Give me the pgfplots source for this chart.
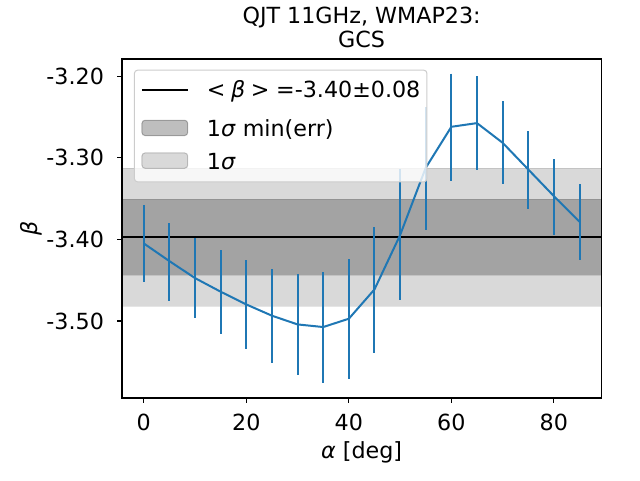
\documentclass[border=0pt]{standalone}
\usepackage{pgfplots}
\pgfplotsset{compat=1.18}
\usepackage{fontspec}
\setmainfont{DejaVu Sans}
\definecolor{tabblue}{HTML}{1F77B4}
\definecolor{legedge}{HTML}{CCCCCC}
% alpha, beta
\pgfplotstableread{
x y
0 -3.4049
5 -3.4266
10 -3.4474
15 -3.4641
20 -3.4797
25 -3.4935
30 -3.5042
35 -3.5074
40 -3.4972
45 -3.4613
50 -3.3947
55 -3.3122
60 -3.2619
65 -3.2574
70 -3.2815
75 -3.3142
80 -3.3469
85 -3.3783
}\datatable
% error bar ends (top, bottom); nan separates bars
\pgfplotstableread{
x y
0 -3.3579
0 -3.4519
0 nan
5 -3.3800
5 -3.4756
5 nan
10 -3.3980
10 -3.4960
10 nan
15 -3.4131
15 -3.5160
15 nan
20 -3.4253
20 -3.5344
20 nan
25 -3.4364
25 -3.5511
25 nan
30 -3.4429
30 -3.5658
30 nan
35 -3.4400
35 -3.5757
35 nan
40 -3.4241
40 -3.5708
40 nan
45 -3.3853
45 -3.5389
45 nan
50 -3.3142
50 -3.4739
50 nan
55 -3.2382
55 -3.3882
55 nan
60 -3.1966
60 -3.3281
60 nan
65 -3.1998
65 -3.3146
65 nan
70 -3.2309
70 -3.3318
70 nan
75 -3.2672
75 -3.3624
75 nan
80 -3.3016
80 -3.3943
80 nan
85 -3.3322
85 -3.4249
}\errtable
\newcommand{\bigfont}{\fontsize{22.22pt}{26.7pt}\selectfont}
\begin{document}
\begin{tikzpicture}[x=1pt,y=1pt,font=\bigfont]
\useasboundingbox (0,0) rectangle (640,480);
\begin{axis}[
  at={(122pt,82pt)}, anchor=south west,
  scale only axis, width=479.3pt, height=339pt,
  xmin=-4.25, xmax=89.25, ymin=-3.5944, ymax=-3.1788,
  xtick={0,20,40,60,80}, xticklabels={0,20,40,60,80},
  ytick={-3.5,-3.4,-3.3,-3.2}, yticklabels={-3.50,-3.40,-3.30,-3.20},
  tick align=outside, tick pos=left, major tick length=4.86pt,
  tick style={black, line width=1.1pt},
  axis line style={black, line width=1.1pt},
  every tick label/.append style={font=\bigfont},
  xticklabel style={anchor=north, inner sep=0pt, yshift=-11pt},
  yticklabel style={anchor=east, inner sep=0pt, xshift=-13pt},
  xlabel={\textit{α} [deg]},
  ylabel={\textit{β}},
  xlabel style={at={(axis description cs:0.5,-0.160)}, anchor=center, inner sep=0pt, font=\bigfont},
  ylabel style={at={(axis description cs:-0.190,0.5)}, anchor=center, inner sep=0pt, font=\bigfont},
  title={GCS},
  title style={at={(axis description cs:0.5,1)}, anchor=base, inner sep=0pt, yshift=5pt, font=\bigfont},
  extra description/.code={
    \node[anchor=base, inner sep=0pt, font=\bigfont, yshift=35.7pt] at (axis description cs:0.5,1) {QJT 11GHz, WMAP23:};
  },
  unbounded coords=jump,
  legend style={
    at={(axis description cs:0.025,0.9684)}, anchor=north west,
    draw=legedge, line width=1pt, fill=white, fill opacity=0.8, text opacity=1,
    rounded corners=3pt, inner xsep=6.5pt, inner ysep=7.3pt,
    row sep=10.2pt, column sep=18.3pt, font=\bigfont,
    nodes={inner sep=0pt, text height=17pt, text depth=5.5pt},
  },
  legend cell align=left,
]
% bands
\addplot[forget plot, draw=black, draw opacity=0.1, line width=1pt, fill=black, fill opacity=0.15]
  coordinates {(-4.25,-3.482) (89.25,-3.482) (89.25,-3.3126) (-4.25,-3.3126)} -- cycle;
\addplot[forget plot, draw=black, draw opacity=0.1, line width=1pt, fill=black, fill opacity=0.25]
  coordinates {(-4.25,-3.444) (89.25,-3.444) (89.25,-3.351) (-4.25,-3.351)} -- cycle;
% mean line
\addplot[forget plot, black, line width=2pt] coordinates {(-4.25,-3.3972) (89.25,-3.3972)};
% data line
\addplot[forget plot, tabblue, line width=2pt, mark=none] table[x=x, y=y] {\datatable};
% error bars
\addplot[forget plot, tabblue, line width=2pt, mark=none] table[x=x, y=y] {\errtable};
% legend
\addlegendimage{legend image code/.code={\path[draw=none, fill=none] (0pt,-17.85pt) -- (0pt,13.75pt); \draw[black, line width=2pt, opacity=1] (0pt,1.55pt) -- (45.7pt,1.55pt);}}
\addlegendentry{<\hspace{0.25em}\textit{β}\hspace{0.25em}>\hspace{0.3em}=-3.40±0.08\hspace{4pt}}
\addlegendimage{legend image code/.code={\draw[draw=black, draw opacity=0.28, line width=1pt, fill=black, fill opacity=0.25] (0pt,-5pt) rectangle (45.7pt,10.3pt);}}
\addlegendentry{1\textit{σ} min(err)}
\addlegendimage{legend image code/.code={\draw[draw=black, draw opacity=0.2, line width=1pt, fill=black, fill opacity=0.15] (0pt,-5pt) rectangle (45.7pt,10.3pt);}}
\addlegendentry{1\textit{σ}}
\end{axis}
\end{tikzpicture}
\end{document}
